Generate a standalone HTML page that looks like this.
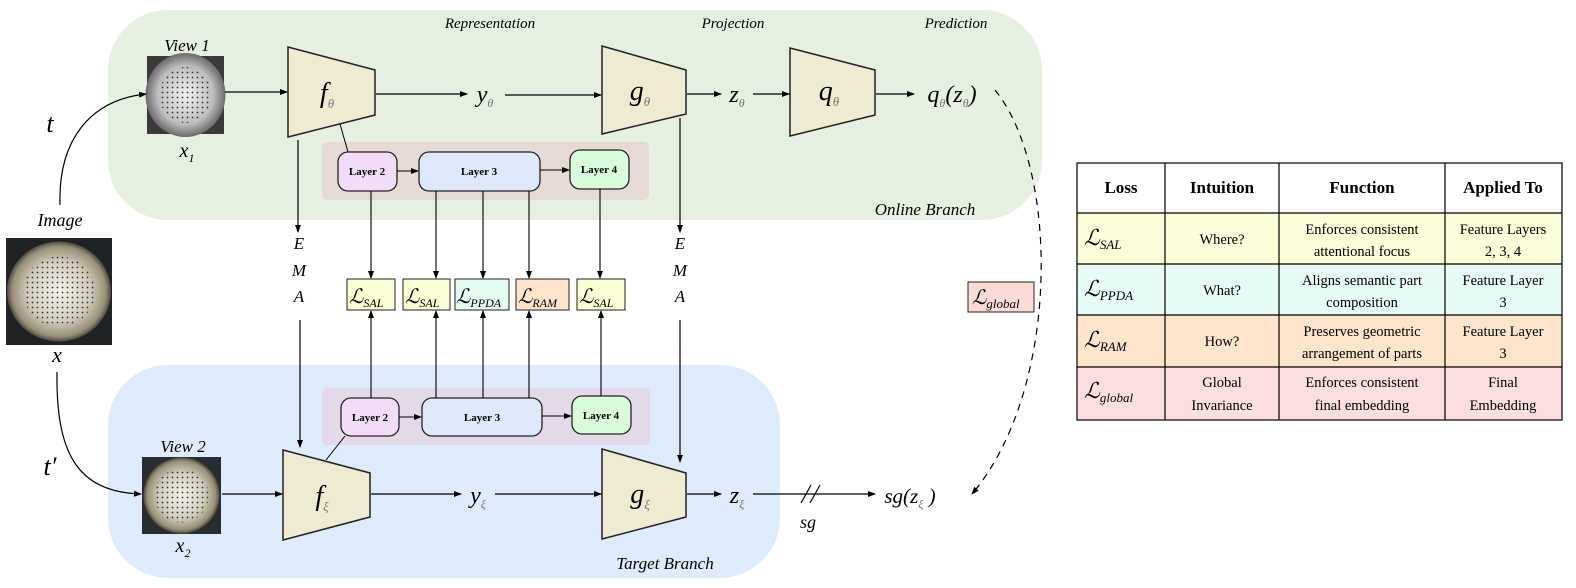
<!DOCTYPE html>
<html><head><meta charset="utf-8"><style>
html,body{margin:0;padding:0;background:#fff;}
svg{display:block}
.m{font-family:"Liberation Serif",serif;font-style:italic;}
.r{font-family:"Liberation Serif",serif;}
</style></head><body>
<svg width="1576" height="588" viewBox="0 0 1576 588" xmlns="http://www.w3.org/2000/svg">
<defs>
<marker id="a" markerWidth="8" markerHeight="8" refX="7" refY="4" orient="auto" markerUnits="userSpaceOnUse"><path d="M0,1 L8,4 L0,7 z" fill="#000"/></marker>
<radialGradient id="dish1" cx="50%" cy="50%" r="50%"><stop offset="0" stop-color="#f2f2f2"/><stop offset="0.7" stop-color="#bdbdbd"/><stop offset="1" stop-color="#6a6a6a"/></radialGradient>
<radialGradient id="dish2" cx="50%" cy="50%" r="50%"><stop offset="0" stop-color="#f3f1ea"/><stop offset="0.6" stop-color="#d2cdbd"/><stop offset="0.9" stop-color="#9a8f78"/><stop offset="1" stop-color="#4d4a44"/></radialGradient>
<pattern id="dots" width="5" height="5" patternUnits="userSpaceOnUse"><circle cx="2.5" cy="2.5" r="0.9" fill="#333"/></pattern>
</defs>

<!-- regions -->
<rect x="108" y="10" width="934" height="210" rx="60" fill="#e5f0e0"/>
<rect x="108" y="365" width="672" height="213" rx="60" fill="#ddebfb"/>

<!-- header labels -->
<text x="490" y="28" class="m" font-size="15" text-anchor="middle">Representation</text>
<text x="733" y="28" class="m" font-size="15" text-anchor="middle">Projection</text>
<text x="956" y="28" class="m" font-size="15" text-anchor="middle">Prediction</text>
<text x="925" y="215" class="m" font-size="17" text-anchor="middle">Online Branch</text>
<text x="665" y="569" class="m" font-size="17" text-anchor="middle">Target Branch</text>

<!-- images -->
<rect x="147" y="56" width="77" height="78" fill="#3a3a3a"/>
<ellipse cx="185.5" cy="95" rx="40" ry="42" fill="url(#dish1)"/>
<ellipse cx="185.5" cy="95" rx="26" ry="28" fill="url(#dots)"/>
<rect x="142" y="457" width="79" height="77" fill="#2a2d30"/>
<ellipse cx="181.5" cy="495.5" rx="38" ry="38" fill="url(#dish2)"/>
<ellipse cx="181.5" cy="495.5" rx="27" ry="27" fill="url(#dots)"/>
<rect x="6" y="238" width="106" height="107" fill="#1f2326"/>
<ellipse cx="59" cy="291.5" rx="52" ry="50" fill="url(#dish2)"/>
<ellipse cx="59" cy="291.5" rx="36" ry="35" fill="url(#dots)"/>

<text x="187" y="51" class="m" font-size="17" text-anchor="middle">View 1</text>
<text x="187" y="157" class="m" font-size="20" text-anchor="middle">x<tspan font-size="12" dy="5">1</tspan></text>
<text x="183" y="452" class="m" font-size="17" text-anchor="middle">View 2</text>
<text x="183" y="552" class="m" font-size="20" text-anchor="middle">x<tspan font-size="12" dy="5">2</tspan></text>
<text x="60" y="226" class="m" font-size="18" text-anchor="middle">Image</text>
<text x="57" y="362" class="m" font-size="22" text-anchor="middle">x</text>
<text x="50" y="132" class="m" font-size="26" text-anchor="middle">t</text>
<text x="50" y="475" class="m" font-size="26" text-anchor="middle">t′</text>

<!-- curves from image -->
<path d="M60,205 C58,140 90,100 146,94" fill="none" stroke="#000" stroke-width="1.2" marker-end="url(#a)"/>
<path d="M57,372 C56,450 75,492 141,494" fill="none" stroke="#000" stroke-width="1.2" marker-end="url(#a)"/>

<!-- trapezoids -->
<g fill="#efebd2" stroke="#222" stroke-width="1.5">
<polygon points="288,47 375,70 375,115 288,137"/>
<polygon points="602,46 686,70 686,114 602,134"/>
<polygon points="790,48 875,70 875,115 790,136"/>
<polygon points="283,450 370,473 370,517 283,540"/>
<polygon points="602,449 686,473 686,517 602,539"/>
</g>
<text x="327" y="102" class="m" font-size="28" text-anchor="middle">f<tspan font-size="13" dy="6" fill="#777">θ</tspan></text>
<text x="640" y="100" class="m" font-size="28" text-anchor="middle">g<tspan font-size="13" dy="6" fill="#777">θ</tspan></text>
<text x="829" y="100" class="m" font-size="28" text-anchor="middle">q<tspan font-size="13" dy="6" fill="#777">θ</tspan></text>
<text x="322" y="505" class="m" font-size="28" text-anchor="middle">f<tspan font-size="13" dy="6" fill="#777">ξ</tspan></text>
<text x="640" y="503" class="m" font-size="28" text-anchor="middle">g<tspan font-size="13" dy="6" fill="#777">ξ</tspan></text>

<!-- top flow -->
<g stroke="#000" stroke-width="1.2" fill="none" marker-end="url(#a)">
<line x1="225" y1="92" x2="287" y2="92"/>
<line x1="376" y1="94" x2="467" y2="94"/>
<line x1="505" y1="95" x2="601" y2="95"/>
<line x1="687" y1="94" x2="721" y2="94"/>
<line x1="753" y1="94" x2="789" y2="94"/>
<line x1="876" y1="94" x2="914" y2="94"/>
<line x1="222" y1="494" x2="282" y2="494"/>
<line x1="371" y1="494" x2="461" y2="494"/>
<line x1="495" y1="494" x2="601" y2="494"/>
<line x1="687" y1="494" x2="721" y2="494"/>
<line x1="753" y1="494" x2="875" y2="494"/>
<line x1="298" y1="140" x2="298" y2="232"/>
<line x1="300" y1="320" x2="300" y2="447"/>
<line x1="680" y1="118" x2="680" y2="232"/>
<line x1="680" y1="320" x2="680" y2="462"/>
</g>
<text x="485" y="102" class="m" font-size="24" text-anchor="middle">y<tspan font-size="12" dy="5" fill="#777">θ</tspan></text>
<text x="737" y="102" class="m" font-size="24" text-anchor="middle">z<tspan font-size="12" dy="5" fill="#777">θ</tspan></text>
<text x="952" y="102" class="m" font-size="24" text-anchor="middle">q<tspan font-size="12" dy="5" fill="#777">θ</tspan><tspan dy="-5">(z</tspan><tspan font-size="12" dy="5" fill="#777">θ</tspan><tspan dy="-5">)</tspan></text>
<text x="478" y="503" class="m" font-size="24" text-anchor="middle">y<tspan font-size="12" dy="5" fill="#777">ξ</tspan></text>
<text x="737" y="503" class="m" font-size="24" text-anchor="middle">z<tspan font-size="12" dy="5" fill="#777">ξ</tspan></text>
<text x="910" y="503" class="m" font-size="21" text-anchor="middle">sg(z<tspan font-size="12" dy="5" fill="#777">ξ</tspan><tspan dy="-5"> )</tspan></text>
<line x1="801" y1="503" x2="811" y2="485" stroke="#000" stroke-width="1.2"/>
<line x1="810" y1="503" x2="820" y2="485" stroke="#000" stroke-width="1.2"/>
<text x="808" y="528" class="m" font-size="18" text-anchor="middle">sg</text>

<!-- EMA -->
<g class="m" font-size="17" text-anchor="middle">
<text x="299" y="249">E</text><text x="299" y="276">M</text><text x="299" y="302">A</text>
<text x="680" y="249">E</text><text x="680" y="276">M</text><text x="680" y="302">A</text>
</g>

<!-- dashed curve -->
<path d="M995,90 C1060,170 1060,390 972,494" fill="none" stroke="#000" stroke-width="1.2" stroke-dasharray="7,6" marker-end="url(#a)"/>

<!-- layer bands -->
<rect x="322" y="142" width="327" height="58" rx="5" fill="#e7d9d5"/>
<rect x="322" y="388" width="328" height="57" rx="5" fill="#e4d8eb"/>
<line x1="340" y1="124" x2="348" y2="152" stroke="#000" stroke-width="1"/>
<line x1="326" y1="460" x2="345" y2="436" stroke="#000" stroke-width="1"/>
<g stroke="#222" stroke-width="1.3">
<rect x="338" y="152" width="59" height="39" rx="10" fill="#f3dcf8"/>
<rect x="419" y="152" width="121" height="39" rx="10" fill="#dde8fb"/>
<rect x="570" y="150" width="59" height="39" rx="10" fill="#d9fbd9"/>
<rect x="341" y="398" width="58" height="38" rx="10" fill="#f3dcf8"/>
<rect x="422" y="398" width="120" height="38" rx="10" fill="#dde8fb"/>
<rect x="572" y="396" width="59" height="38" rx="10" fill="#d9fbd9"/>
</g>
<g class="r" font-size="11" font-weight="bold" text-anchor="middle">
<text x="367" y="175">Layer 2</text><text x="479" y="175">Layer 3</text><text x="599" y="173">Layer 4</text>
<text x="370" y="421">Layer 2</text><text x="482" y="421">Layer 3</text><text x="601" y="419">Layer 4</text>
</g>
<g stroke="#000" stroke-width="1.1" fill="none" marker-end="url(#a)">
<line x1="397" y1="171" x2="418" y2="171"/>
<line x1="540" y1="170" x2="569" y2="170"/>
<line x1="399" y1="417" x2="421" y2="417"/>
<line x1="542" y1="416" x2="571" y2="416"/>
<line x1="371" y1="191" x2="371" y2="278"/>
<line x1="436" y1="191" x2="436" y2="278"/>
<line x1="483" y1="191" x2="483" y2="278"/>
<line x1="529" y1="191" x2="529" y2="278"/>
<line x1="600" y1="189" x2="600" y2="278"/>
<line x1="371" y1="398" x2="371" y2="311"/>
<line x1="436" y1="398" x2="436" y2="311"/>
<line x1="483" y1="398" x2="483" y2="311"/>
<line x1="529" y1="398" x2="529" y2="311"/>
<line x1="601" y1="396" x2="601" y2="311"/>
</g>

<!-- loss boxes -->
<g stroke="#222" stroke-width="1">
<rect x="347" y="279" width="48" height="31" fill="#fbfdd4"/>
<rect x="403" y="279" width="47" height="31" fill="#fbfdd4"/>
<rect x="455" y="279" width="54" height="31" fill="#e4fbef"/>
<rect x="516" y="279" width="53" height="31" fill="#fde5cc"/>
<rect x="577" y="279" width="48" height="31" fill="#fbfdd4"/>
<rect x="968" y="282" width="66" height="30" fill="#fadbd6"/>
</g>
<g class="m" font-size="20">
<text x="349" y="303">ℒ<tspan font-size="12" dy="4">SAL</tspan></text>
<text x="405" y="303">ℒ<tspan font-size="12" dy="4">SAL</tspan></text>
<text x="456" y="303">ℒ<tspan font-size="12" dy="4">PPDA</tspan></text>
<text x="518" y="303">ℒ<tspan font-size="12" dy="4">RAM</tspan></text>
<text x="579" y="303">ℒ<tspan font-size="12" dy="4">SAL</tspan></text>
<text x="972" y="304">ℒ<tspan font-size="13" dy="4">global</tspan></text>
</g>

<!-- table -->
<rect x="1077" y="213" width="485" height="51" fill="#fbfdd8"/>
<rect x="1077" y="264" width="485" height="51" fill="#e6fbf1"/>
<rect x="1077" y="315" width="485" height="52" fill="#fde5cc"/>
<rect x="1077" y="367" width="485" height="53" fill="#fddede"/>
<g stroke="#000" stroke-width="1.2" fill="none">
<rect x="1077" y="163" width="485" height="257"/>
<line x1="1077" y1="213" x2="1562" y2="213"/>
<line x1="1077" y1="264" x2="1562" y2="264"/>
<line x1="1077" y1="315" x2="1562" y2="315"/>
<line x1="1077" y1="367" x2="1562" y2="367"/>
<line x1="1165" y1="163" x2="1165" y2="420"/>
<line x1="1279" y1="163" x2="1279" y2="420"/>
<line x1="1445" y1="163" x2="1445" y2="420"/>
</g>
<g class="r" font-size="17" font-weight="bold" text-anchor="middle">
<text x="1121" y="193">Loss</text><text x="1222" y="193">Intuition</text><text x="1362" y="193">Function</text><text x="1503" y="193">Applied To</text>
</g>
<g class="m" font-size="22">
<text x="1084" y="245">ℒ<tspan font-size="13" dy="4">SAL</tspan></text>
<text x="1084" y="296">ℒ<tspan font-size="13" dy="4">PPDA</tspan></text>
<text x="1084" y="347">ℒ<tspan font-size="13" dy="4">RAM</tspan></text>
<text x="1084" y="398">ℒ<tspan font-size="13" dy="4">global</tspan></text>
</g>
<g class="r" font-size="14.5" text-anchor="middle">
<text x="1222" y="244">Where?</text>
<text x="1222" y="295">What?</text>
<text x="1222" y="346">How?</text>
<text x="1222" y="387">Global</text><text x="1222" y="410">Invariance</text>
<text x="1362" y="234">Enforces consistent</text><text x="1362" y="256">attentional focus</text>
<text x="1362" y="285">Aligns semantic part</text><text x="1362" y="307">composition</text>
<text x="1362" y="336">Preserves geometric</text><text x="1362" y="358">arrangement of parts</text>
<text x="1362" y="387">Enforces consistent</text><text x="1362" y="410">final embedding</text>
<text x="1503" y="234">Feature Layers</text><text x="1503" y="256">2, 3, 4</text>
<text x="1503" y="285">Feature Layer</text><text x="1503" y="307">3</text>
<text x="1503" y="336">Feature Layer</text><text x="1503" y="358">3</text>
<text x="1503" y="387">Final</text><text x="1503" y="410">Embedding</text>
</g>
</svg>
</body></html>
